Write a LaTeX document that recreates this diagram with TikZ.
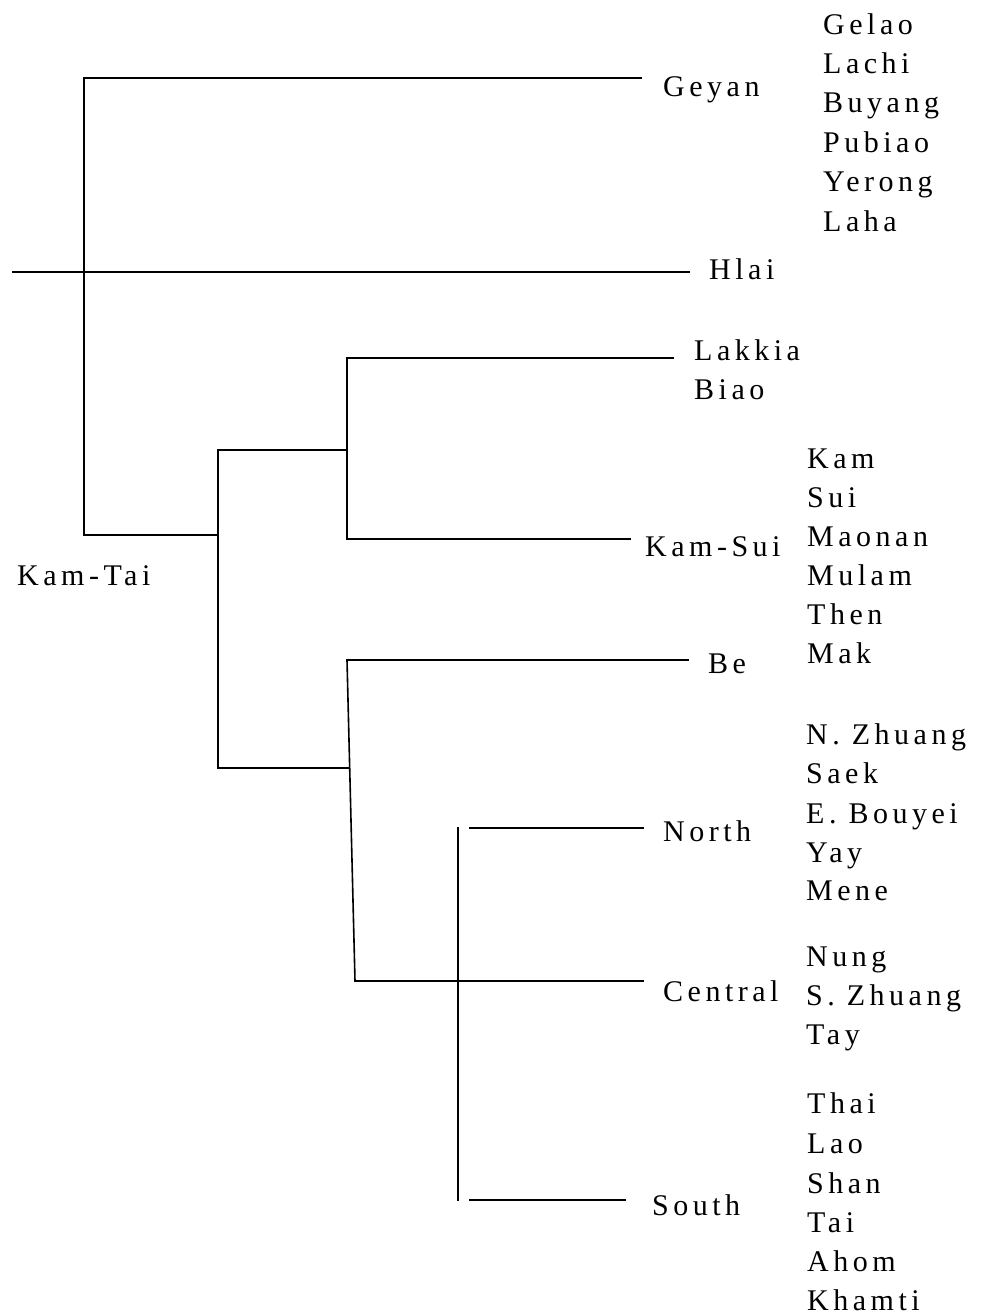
\documentclass[tikz,border=0pt]{standalone}
\usepackage{fontspec}
\newfontfamily\langfont[LetterSpace=15]{Liberation Serif}
\begin{document}
\begin{tikzpicture}[x=1pt,y=-1pt,
  lbl/.style={anchor=base west, inner sep=0pt, font=\fontsize{30}{36}\selectfont\langfont},
  br/.style={line width=1.6pt, line cap=rect}]
\useasboundingbox (0,0) rectangle (983,1316);
% junction coordinates
\coordinate (rootTop) at (84,78);
\coordinate (rootBot) at (84,535);
\coordinate (geyanEnd) at (641,78);
\coordinate (hlaiStart) at (13,272);
\coordinate (hlaiEnd) at (689,272);
\coordinate (kdTop) at (218,450);
\coordinate (kdBot) at (218,768);
\coordinate (kdMid) at (218,535);
\coordinate (lbTop) at (347,358);
\coordinate (lbMid) at (347,450);
\coordinate (lbBot) at (347,539);
\coordinate (lakkiaEnd) at (673,358);
\coordinate (kamsuiEnd) at (630,539);
\coordinate (beTop) at (347,660);
\coordinate (beMid) at (348,768);
\coordinate (beEnd) at (688,660);
\coordinate (taiBot) at (355,981);
\coordinate (centralEnd) at (643,981);
\coordinate (nsTop) at (458,828);
\coordinate (nsBot) at (458,1200);
\coordinate (northStart) at (470,828);
\coordinate (northEnd) at (643,828);
\coordinate (southStart) at (470,1200);
\coordinate (southEnd) at (625,1200);

% labels
\node[lbl] (kamtai) at (17,585) {Kam-Tai};
\node[lbl] (geyan) at (663,97) {Geyan};
\node[lbl] (hlai) at (709,279) {Hlai};
\node[lbl] (lakkia) at (694,360) {Lakkia};
\node[lbl] (biao) at (694,399) {Biao};
\node[lbl] (kamsui) at (645,556) {Kam-Sui};
\node[lbl] (be) at (708,673) {Be};
\node[lbl] (north) at (663,841) {North};
\node[lbl] (central) at (663,1001) {Central};
\node[lbl] (south) at (652,1215) {South};

\node[lbl] (gelao) at (823,35) {Gelao};
\node[lbl] (lachi) at (823,74) {Lachi};
\node[lbl] (buyang) at (823,113) {Buyang};
\node[lbl] (pubiao) at (823,153) {Pubiao};
\node[lbl] (yerong) at (823,192) {Yerong};
\node[lbl] (laha) at (823,231) {Laha};

\node[lbl] (kam) at (807,468) {Kam};
\node[lbl] (sui) at (807,507) {Sui};
\node[lbl] (maonan) at (807,546) {Maonan};
\node[lbl] (mulam) at (807,585) {Mulam};
\node[lbl] (then) at (807,624) {Then};
\node[lbl] (mak) at (807,663) {Mak};

\node[lbl] (nzhuang) at (806,744) {N. Zhuang};
\node[lbl] (saek) at (806,783) {Saek};
\node[lbl] (ebouyei) at (806,823) {E. Bouyei};
\node[lbl] (yay) at (806,862) {Yay};
\node[lbl] (mene) at (806,900) {Mene};

\node[lbl] (nung) at (806,966) {Nung};
\node[lbl] (szhuang) at (806,1005) {S. Zhuang};
\node[lbl] (tay) at (806,1044) {Tay};

\node[lbl] (thai) at (807,1113) {Thai};
\node[lbl] (lao) at (807,1153) {Lao};
\node[lbl] (shan) at (807,1193) {Shan};
\node[lbl] (tai) at (807,1232) {Tai};
\node[lbl] (ahom) at (807,1271) {Ahom};
\node[lbl] (khamti) at (807,1310) {Khamti};

% branches
\draw[br] (geyanEnd) -- (rootTop) -- (rootBot) -- (kdMid);
\draw[br] (hlaiStart) -- (hlaiEnd);
\draw[br] (lbMid) -- (kdTop) -- (kdBot) -- (beMid);
\draw[br] (lakkiaEnd) -- (lbTop) -- (lbBot) -- (kamsuiEnd);
\draw[br] (beEnd) -- (beTop) -- (taiBot) -- (centralEnd);
\draw[br] (nsTop) -- (nsBot);
\draw[br] (northStart) -- (northEnd);
\draw[br] (southStart) -- (southEnd);
\end{tikzpicture}
\end{document}
